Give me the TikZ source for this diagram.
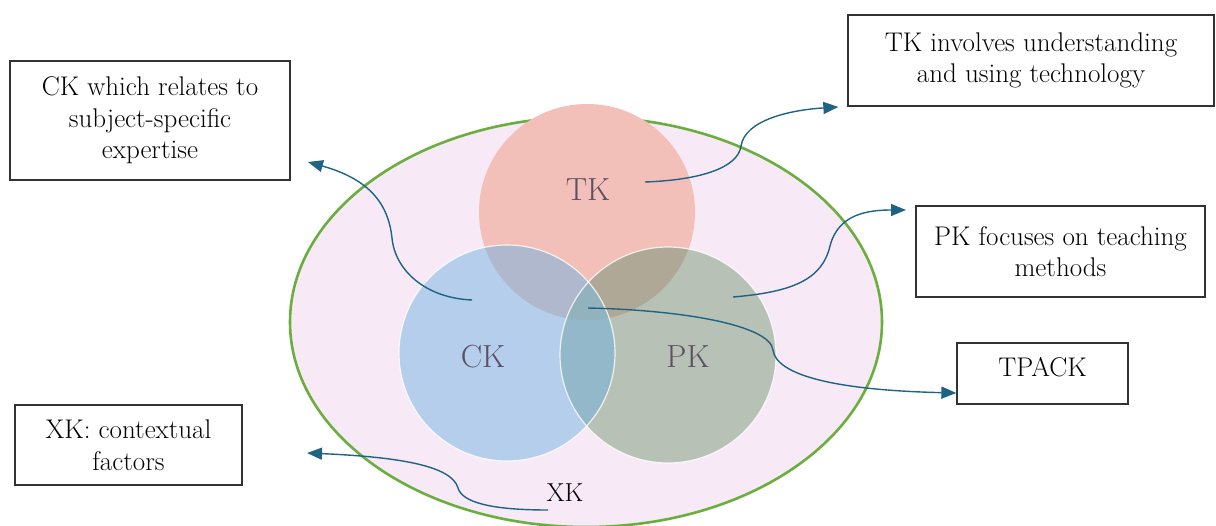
\documentclass[tikz,border=0pt]{standalone}
\usetikzlibrary{arrows.meta}
\definecolor{bgpink}{RGB}{248,233,246}
\definecolor{ellgreen}{RGB}{106,174,62}
\definecolor{tkcol}{RGB}{242,192,184}
\definecolor{ckcol}{RGB}{180,206,235}
\definecolor{pkcol}{RGB}{183,193,181}
\definecolor{tkck}{RGB}{176,184,206}
\definecolor{tkpk}{RGB}{176,168,150}
\definecolor{ckpk}{RGB}{146,184,202}
\definecolor{allc}{RGB}{146,178,190}
\definecolor{arrcol}{RGB}{30,100,130}
\definecolor{lblcol}{RGB}{92,80,100}
\definecolor{boxcol}{RGB}{50,50,50}
\tikzset{
  textbox/.style={draw=boxcol, line width=1.3pt, fill=white, align=center, font=\fontsize{27}{31.5}\selectfont, inner sep=0pt},
  conn/.style={draw=arrcol, line width=1.4pt, -{Triangle[length=15pt,width=12pt]}},
  circlbl/.style={text=lblcol, font=\fontsize{32}{36}\selectfont}
}
\begin{document}
\begin{tikzpicture}[x=1pt,y=-1pt]
\useasboundingbox (0,0) rectangle (1216,525);
% outer ellipse
\draw[fill=bgpink, draw=ellgreen, line width=2.6pt] (586,322) ellipse [x radius=296, y radius=205];
% circles
\coordinate (tkc) at (587,212);
\coordinate (ckc) at (507,353);
\coordinate (pkc) at (668,355);
\def\R{108}
\fill[tkcol] (tkc) circle (\R);
\fill[ckcol] (ckc) circle (\R);
\fill[pkcol] (pkc) circle (\R);
\begin{scope}\clip (tkc) circle (\R); \fill[tkck] (ckc) circle (\R); \end{scope}
\begin{scope}\clip (tkc) circle (\R); \fill[tkpk] (pkc) circle (\R); \end{scope}
\begin{scope}\clip (ckc) circle (\R); \fill[ckpk] (pkc) circle (\R); \end{scope}
\begin{scope}\clip (tkc) circle (\R); \clip (ckc) circle (\R); \fill[allc] (pkc) circle (\R); \end{scope}
\draw[white, line width=1.2pt, opacity=0.8] (ckc) circle (\R);
\draw[white, line width=1.2pt, opacity=0.8] (pkc) circle (\R);
% circle labels
\node[circlbl] (TK) at (588,190) {TK};
\node[circlbl] (CK) at (483,357) {CK};
\node[circlbl] (PK) at (688,357) {PK};
\node[font=\fontsize{26}{30}\selectfont] (XK) at (565,493) {XK};
% boxes
\node[textbox, minimum width=280, minimum height=119] (ckbox) at (150,120.5) {CK which relates to\\subject-specific\\expertise};
\node[textbox, minimum width=366, minimum height=91] (tkbox) at (1031,60.5) {TK involves understanding\\and using technology};
\node[textbox, minimum width=289, minimum height=91] (pkbox) at (1060.5,251.5) {PK focuses on teaching\\methods};
\node[textbox, minimum width=171, minimum height=61] (tpbox) at (1042.5,373.5) {};
\node[font=\fontsize{27}{31}\selectfont] (tptext) at (1042.5,367) {TPACK};
\node[textbox, minimum width=227, minimum height=80] (xkbox) at (128.5,445) {XK: contextual\\factors};
% connector end points
\coordinate (tkstart) at (645,182);
\coordinate (ckstart) at (472,300);
\coordinate (pkstart) at (733,297);
\coordinate (tpstart) at (588,308);
\coordinate (xkstart) at (548,510);
\coordinate (tkend) at ([xshift=-9pt]tkbox.south west |- 0,107);
\coordinate (ckend) at (308,162);
\coordinate (pkend) at (906,210);
\coordinate (tpend) at (tpbox.west |- 0,393);
\coordinate (xkend) at (307,453);
% connectors
\draw[conn] (tkstart) .. controls (700,180) and (738,168) .. (741,146) .. controls (745,120) and (790,110) .. (tkend);
\draw[conn] (ckstart) .. controls (425,298) and (395,270) .. (392,238) .. controls (388,200) and (365,178) .. (ckend);
\draw[conn] (pkstart) .. controls (792,292) and (822,280) .. (830,246) .. controls (838,214) and (868,210) .. (pkend);
\draw[conn] (tpstart) .. controls (682,310) and (770,325) .. (773,350) .. controls (776,374) and (830,390) .. (tpend);
\draw[conn] (xkstart) .. controls (490,510) and (462,502) .. (458,488) .. controls (452,466) and (400,457) .. (xkend);
\end{tikzpicture}
\end{document}
